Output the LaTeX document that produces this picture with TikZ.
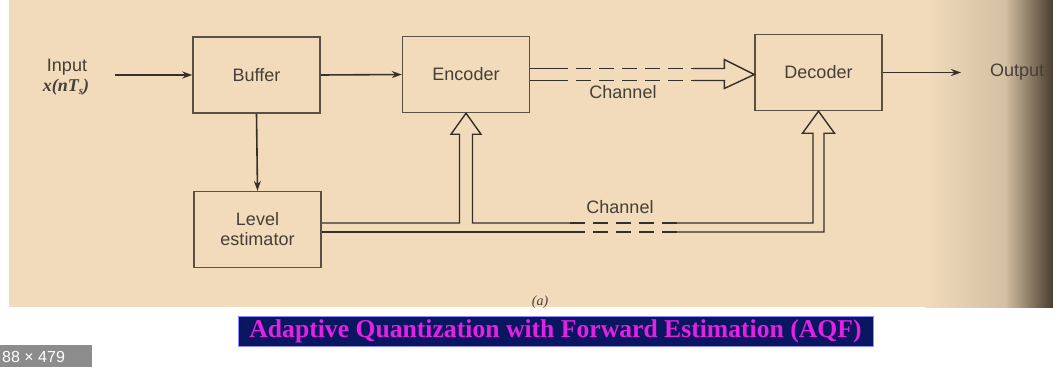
\documentclass[tikz,border=0pt]{standalone}
\usepackage{fontspec}
\usepackage{graphicx}
\setmainfont{Liberation Sans}
\newfontfamily\bookserif{Liberation Serif}
\usetikzlibrary{arrows.meta,calc}
\definecolor{paper}{RGB}{241,219,187}
\definecolor{ink}{RGB}{55,48,42}
\definecolor{textink}{RGB}{70,62,55}
\definecolor{boxink}{RGB}{90,80,70}
\definecolor{navy}{RGB}{10,22,95}
\definecolor{titlepink}{RGB}{228,32,228}
\definecolor{shadeA}{RGB}{212,192,162}
\definecolor{shadeB}{RGB}{72,60,46}
\definecolor{tagGrey}{RGB}{140,140,140}

\begin{document}
\begin{tikzpicture}[x=1pt,y=-1pt,
  blk/.style={draw=boxink,line width=1.4pt,minimum width=127pt,minimum height=76pt,
              inner sep=0pt,align=center,font=\fontsize{18}{22}\selectfont,text=textink},
  lbl/.style={font=\fontsize{18}{22}\selectfont,text=textink,inner sep=0pt},
  wire/.style={draw=ink,line width=1.6pt},
  arr/.style={wire,-{Stealth[length=10pt,width=7pt]}},
  dbl/.style={draw=ink,line width=1.4pt,line join=miter},
  gap/.style={dbl,dash pattern=on 15pt off 8pt}]

% page, paper and the shadow of the binding
\useasboundingbox (0,0) rectangle (1053,367);
\clip (0,0) rectangle (1053,367);
\fill[white] (0,0) rectangle (1053,367);
\fill[paper] (9,0) rectangle (1053,307);
\shade[left color=paper,right color=shadeA] (925,0) rectangle (1005,307);
\shade[left color=shadeA,right color=shadeB] (1005,0) rectangle (1053,307);

% blocks
\node[blk] (buf) at (256.5,75) {Buffer};
\node[blk] (enc) at (466,74.5) {Encoder};
\node[blk] (dec) at (818.5,72.5) {Decoder};
\node[blk] (lev) at (257.5,229.5) {Level\\[-2pt]estimator};

% input and output
\node[lbl] (inlab) at (67,67) {Input};
\node[lbl] (insig) at (66,87) {\bookserif\bfseries\itshape x(nT\raisebox{-0.4ex}{\fontsize{11}{11}\selectfont s})};
\coordinate (inp) at (115,75);
\coordinate (outp) at (961,72.5);
\node[lbl,anchor=west] (outlab) at (990,72.5) {Output};

\draw[arr] (inp) -- (buf.west);
\draw[arr] (buf.east) -- (enc.west);
\draw[arr] (dec.east) -- (outp);
\draw[arr] (buf.south) -- (lev.north);

% encoder -> decoder channel (hollow double-line arrow)
\coordinate (tip) at (dec.west |- enc.east);
\coordinate (ta) at (553,0);
\coordinate (tb) at (693,0);
\draw[dbl] ($(enc.east)+(0,-6)$) -- ($(ta |- enc.east)+(0,-6)$);
\draw[gap] ($(ta |- enc.east)+(0,-6)$) -- ($(tb |- enc.east)+(0,-6)$);
\draw[dbl] ($(tb |- enc.east)+(0,-6)$) -- ($(tip)+(-30,-6)$) -- ($(tip)+(-30,-15)$)
  -- (tip) -- ($(tip)+(-30,14)$) -- ($(tip)+(-30,6)$) -- ($(tb |- enc.east)+(0,6)$);
\draw[gap] ($(ta |- enc.east)+(0,6)$) -- ($(tb |- enc.east)+(0,6)$);
\draw[dbl] ($(ta |- enc.east)+(0,6)$) -- ($(enc.east)+(0,6)$);
\node[lbl] (ch1) at (623,92) {Channel};

% level estimator -> encoder and decoder (side information)
\coordinate (lu) at ($(lev.east)+(0,-6.5)$);
\coordinate (ll) at ($(lev.east)+(0,2.5)$);
\coordinate (ga) at (570,0);
\coordinate (gb) at (677,0);
\draw[dbl] (lu) -| ($(enc.south)+(-6.5,21)$) -- ($(enc.south)+(-15,21)$) -- (enc.south)
  -- ($(enc.south)+(15,21)$) -- ($(enc.south)+(6.5,21)$) |- (ga |- lu);
\draw[gap] (ga |- lu) -- (gb |- lu);
\draw[dbl] (gb |- lu) -| ($(dec.south)+(-5.5,22)$) -- ($(dec.south)+(-16,22)$) -- (dec.south)
  -- ($(dec.south)+(16,22)$) -- ($(dec.south)+(5.5,22)$) |- (gb |- ll);
\draw[gap] (ga |- ll) -- (gb |- ll);
\draw[dbl] (ga |- ll) -- (ll);
\node[lbl] (ch2) at (620,207) {Channel};

% figure tag
\node[text=textink,inner sep=0pt] (figtag) at (540,302) {\bookserif\itshape\fontsize{14}{14}\selectfont (a)};

% caption banner
\node[fill=navy,draw=blue!45!white,line width=0.8pt,minimum width=635pt,minimum height=30pt,inner sep=0pt]
  (title) at (555.5,331)
  {\resizebox{612pt}{!}{\bookserif\bfseries\color{titlepink}Adaptive Quantization with Forward Estimation (AQF)}};

% image size tag
\fill[tagGrey] (0,345) rectangle (92,367);
\node[anchor=west,text=white,inner sep=0pt,font=\fontsize{16}{16}\selectfont] (size) at (2,357) {88 × 479};
\end{tikzpicture}
\end{document}
